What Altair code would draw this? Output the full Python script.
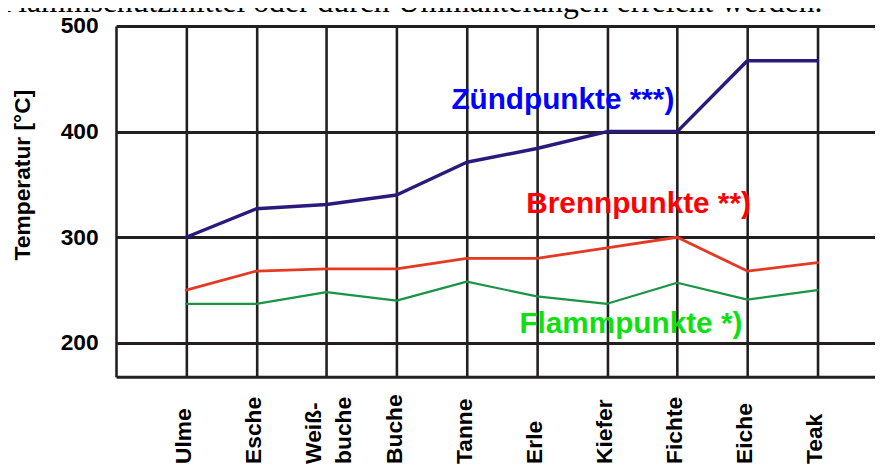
import altair as alt
import pandas as pd

# ---- data ----
woods = ["Ulme", "Esche", "Weiß-\nbuche", "Buche", "Tanne", "Erle", "Kiefer", "Fichte", "Eiche", "Teak"]
zuendpunkte = [300, 327, 331, 340, 371, 384, 400, 400, 467, 467]
brennpunkte = [250, 268, 270, 270, 280, 280, 290, 300, 268, 276]
flammpunkte = [237, 237, 248, 240, 258, 244, 237, 257, 241, 250]
series_names = ["Zündpunkte ***)", "Brennpunkte **)", "Flammpunkte *)"]
y_ticks = [200, 300, 400, 500]
y_title = "Temperatur [°C]"
caption = "Flammschutzmittel oder durch Ummantelungen erreicht werden."

# ---- styles ----
line_colors = ["#2b1a7c", "#e43a24", "#1a9447"]
label_colors = ["#0000ff", "#ff0000", "#10e010"]
line_widths = [3.5, 2.2, 2.8]
grid_color = "#231f20"
SANS = "Liberation Sans"

rows = []
for name, vals in zip(series_names, [zuendpunkte, brennpunkte, flammpunkte]):
    for i, (w, v) in enumerate(zip(woods, vals)):
        rows.append({"idx": i, "wood": w, "series": name, "temp": v})
df = pd.DataFrame(rows)
wood_df = pd.DataFrame({"idx": list(range(len(woods))), "wood": woods})

# annotation positions (data units)
label_df = pd.DataFrame({
    "name": series_names,
    "idx": [5.37, 6.45, 6.34],
    "temp": [421.5, 322.5, 209.3],
    "col": label_colors,
})

xscale = alt.Scale(domain=[-1, 9.82], nice=False, zero=False)
yscale = alt.Scale(domain=[168, 500], nice=False, zero=False)

lines = alt.Chart(df).mark_line(strokeJoin="round", strokeCap="round").encode(
    x=alt.X("idx:Q", scale=xscale,
            axis=alt.Axis(values=list(range(-1, 10)), grid=True, gridColor=grid_color,
                          gridWidth=2.6, gridOpacity=1, labels=False, ticks=False,
                          domain=True, domainColor=grid_color, domainWidth=3, title=None)),
    y=alt.Y("temp:Q", scale=yscale,
            axis=alt.Axis(values=y_ticks, grid=True, gridColor=grid_color, gridWidth=3,
                          gridOpacity=1, ticks=False, domain=False,
                          labelFont=SANS, labelFontWeight="bold", labelFontSize=23,
                          labelColor="black", labelPadding=18,
                          title=y_title, titleFont=SANS, titleFontSize=23,
                          titleFontWeight="bold", titleColor="black", titleAngle=270,
                          titleX=-94, titleY=150, titleAlign="center",
                          titleBaseline="middle")),
    color=alt.Color("series:N", scale=alt.Scale(domain=series_names, range=line_colors), legend=None),
    strokeWidth=alt.StrokeWidth("series:N", scale=alt.Scale(domain=series_names, range=line_widths), legend=None),
    detail="series:N",
)

wood_labels = alt.Chart(wood_df).transform_calculate(
    lx="datum.idx - (indexof(datum.wood, '\\n') >= 0 ? 0.15 : 0)"
).mark_text(
    angle=270, align="left", baseline="middle", font=SANS, fontSize=23,
    fontWeight="bold", color="black", lineBreak="\n", lineHeight=30, dy=-2,
).encode(
    x=alt.X("lx:Q", scale=xscale),
    y=alt.value(442),
    text="wood:N",
)

series_labels = alt.Chart(label_df).mark_text(
    align="center", baseline="alphabetic", font=SANS, fontSize=30, fontWeight="bold",
).encode(
    x=alt.X("idx:Q", scale=xscale),
    y=alt.Y("temp:Q", scale=yscale),
    text="name:N",
    color=alt.Color("col:N", scale=None),
)

cap = alt.Chart(pd.DataFrame({"t": [caption]})).mark_text(
    align="right", baseline="alphabetic", font="Liberation Serif", fontSize=32, color="black",
).encode(
    x=alt.value(713),
    y=alt.value(-14),
    text="t:N",
)

chart = alt.layer(lines, wood_labels, series_labels, cap).properties(
    width=766, height=354,
    padding={"left": 109, "top": 16, "right": 0, "bottom": 90},
    autosize=alt.AutoSizeParams(type="none"),
    background="white",
).configure_view(strokeWidth=0)

chart.save("out.html", embed_options={"renderer": "svg", "actions": False})
